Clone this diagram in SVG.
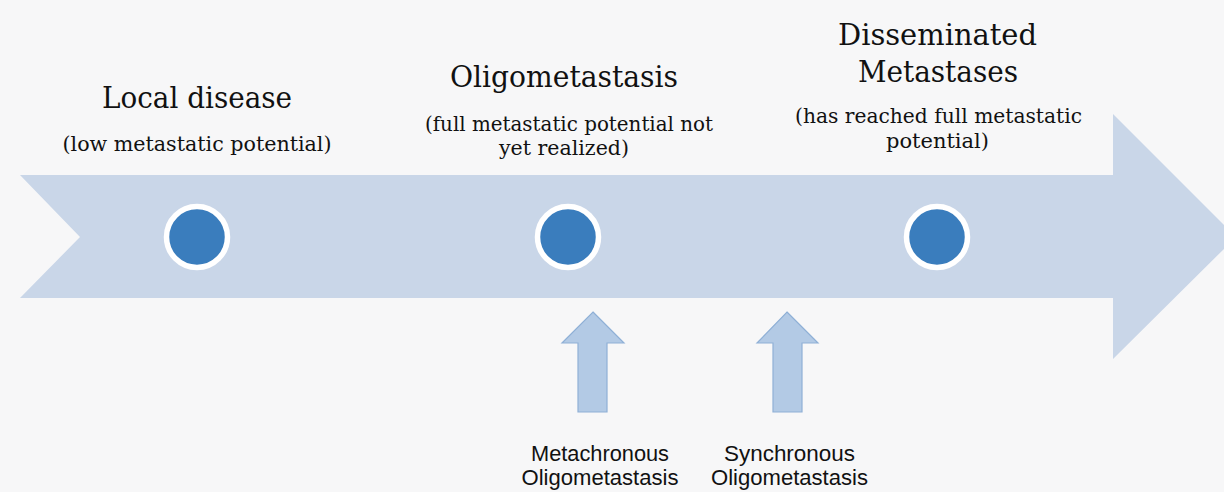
<svg xmlns="http://www.w3.org/2000/svg" width="1224" height="492" viewBox="0 0 1224 492">
<style>
.title{font-family:"DejaVu Serif","Liberation Serif",serif;font-size:30px;fill:#111;text-anchor:middle}
.sub{font-family:"DejaVu Serif","Liberation Serif",serif;font-size:21px;fill:#111;text-anchor:middle}
.lab{font-family:"Liberation Sans",Arial,sans-serif;font-size:22px;fill:#111;text-anchor:middle}
.dot{fill:#3a7dbd;stroke:#ffffff;stroke-width:5.5}
.up{fill:#b3cae5;stroke:#8fb0d6;stroke-width:1.2}
</style>
<rect width="1224" height="492" fill="#f7f7f8"/>
<g id="timeline">
<polygon points="20,175 1113,175 1113,114 1236,237 1113,359 1113,298 20,298 80,237" fill="#c9d6e8"/>
</g>
<g id="local-disease">
<circle class="dot" cx="197" cy="237" r="30.5"/>
<text class="title" x="197" y="108" textLength="190" lengthAdjust="spacingAndGlyphs">Local disease</text>
<text class="sub" x="197" y="151" textLength="269" lengthAdjust="spacingAndGlyphs">(low metastatic potential)</text>
</g>
<g id="oligometastasis">
<circle class="dot" cx="568" cy="237" r="30.5"/>
<text class="title" x="564" y="87" textLength="228" lengthAdjust="spacingAndGlyphs">Oligometastasis</text>
<text class="sub" x="569" y="131" textLength="288" lengthAdjust="spacingAndGlyphs">(full metastatic potential not</text>
<text class="sub" x="564" y="155" textLength="130" lengthAdjust="spacingAndGlyphs">yet realized)</text>
</g>
<g id="disseminated">
<circle class="dot" cx="937" cy="237" r="30.5"/>
<text class="title" x="937.5" y="45" textLength="199" lengthAdjust="spacingAndGlyphs">Disseminated</text>
<text class="title" x="938" y="82" textLength="160" lengthAdjust="spacingAndGlyphs">Metastases</text>
<text class="sub" x="938.5" y="123" textLength="287" lengthAdjust="spacingAndGlyphs">(has reached full metastatic</text>
<text class="sub" x="937.5" y="148" textLength="103" lengthAdjust="spacingAndGlyphs">potential)</text>
</g>
<g id="connectors">
<polygon class="up" points="593,312 624,343 607,343 607,412 578,412 578,343 562,343"/>
<polygon class="up" points="787,312 818,343 802,343 802,412 773,412 773,343 757,343"/>
</g>
<g id="metachronous">
<text class="lab" x="600" y="461" textLength="138" lengthAdjust="spacingAndGlyphs">Metachronous</text>
<text class="lab" x="600" y="485" textLength="157" lengthAdjust="spacingAndGlyphs">Oligometastasis</text>
</g>
<g id="synchronous">
<text class="lab" x="789.5" y="461" textLength="131" lengthAdjust="spacingAndGlyphs">Synchronous</text>
<text class="lab" x="789.5" y="485" textLength="157" lengthAdjust="spacingAndGlyphs">Oligometastasis</text>
</g>
</svg>
